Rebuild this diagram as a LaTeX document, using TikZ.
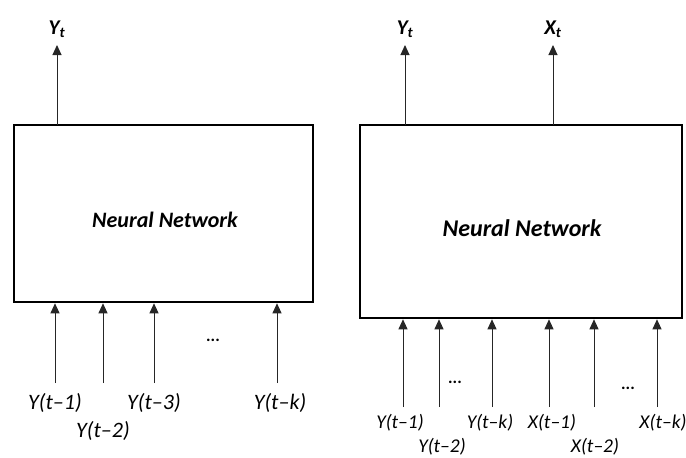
\documentclass[tikz,border=0pt]{standalone}
\usepackage{fontspec}
\setmainfont{Carlito}
\usetikzlibrary{arrows.meta}
\begin{document}
\begin{tikzpicture}[x=1pt,y=-1pt,
  nnbox/.style={draw, line width=2.6pt, inner sep=0pt},
  inarrow/.style={draw=black!85, line width=1pt, -{Triangle[length=10pt,width=9pt]}},
  lbl/.style={font=\fontsize{22}{25}\selectfont\itshape, inner sep=1pt},
  lbls/.style={font=\fontsize{19.5}{22}\selectfont\itshape, inner sep=1pt},
  outlbl/.style={font=\fontsize{21}{24}\selectfont\bfseries\itshape, inner sep=1pt},
  dots/.style={font=\fontsize{17}{18}\selectfont\bfseries, inner sep=0pt},
  nntext/.style={font=\bfseries\itshape}
]
\useasboundingbox (0,0) rectangle (686,458);
% left
\node[nnbox, minimum width=299pt, minimum height=177pt] (L) at (163.5,213.5) {};
\node[nntext, font=\fontsize{22}{25}\selectfont\bfseries\itshape] (Ltext) at (165,220) {Neural Network};
\node[outlbl] (LY) at (57,29) {Y\textsubscript{t}};
\coordinate (LYs) at (57,125);
\draw[inarrow] (LYs) -- (57,45) coordinate (LYe);
\foreach \n/\x/\y/\t in {1/55/403/{Y(t–1)},2/103/431/{Y(t–2)},3/154/403/{Y(t–3)},4/280/403/{Y(t–k)}}{
  \node[lbl] (l\n) at (\x,\y) {\t};
}
\foreach \n/\x in {1/55,2/103,3/154,4/277}{
  \coordinate (la\n) at (\x,383);
  \draw[inarrow] (la\n) -- (la\n |- L.south);
}
\node[dots] (ldots) at (213,340) {...};
% right
\node[nnbox, minimum width=322pt, minimum height=193pt] (R) at (521,221.5) {};
\node[nntext, font=\fontsize{24}{27}\selectfont\bfseries\itshape] (Rtext) at (522,228) {Neural Network};
\node[outlbl] (RY) at (405,29) {Y\textsubscript{t}};
\node[outlbl] (RX) at (553,29) {X\textsubscript{t}};
\coordinate (RYs) at (405,125);
\coordinate (RXs) at (553,125);
\draw[inarrow] (RYs) -- (405,45);
\draw[inarrow] (RXs) -- (553,45);
\foreach \n/\x/\y/\t in {1/400/423/{Y(t–1)},2/442/447/{Y(t–2)},3/490/423/{Y(t–k)},4/552/423/{X(t–1)},5/595/447/{X(t–2)},6/663/423/{X(t–k)}}{
  \node[lbls] (r\n) at (\x,\y) {\t};
}
\foreach \n/\x in {1/403,2/439,3/492,4/549,5/594,6/657}{
  \coordinate (ra\n) at (\x,407);
  \draw[inarrow] (ra\n) -- (ra\n |- R.south);
}
\node[dots] (rdots1) at (455,382) {...};
\node[dots] (rdots2) at (628,388) {...};
\end{tikzpicture}
\end{document}
